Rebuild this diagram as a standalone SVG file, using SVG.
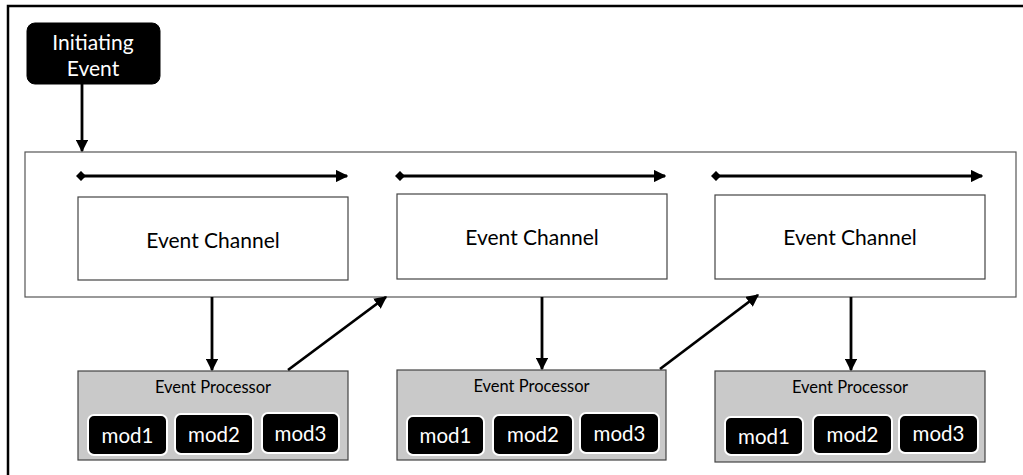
<svg xmlns="http://www.w3.org/2000/svg" width="1023" height="475" viewBox="0 0 1023 475">
<style>
.frame{fill:none;stroke:#000;stroke-width:2.5}
.container{fill:#fff;stroke:#555;stroke-width:1.2}
.chan{fill:#fff;stroke:#444;stroke-width:1.2}
.proc{fill:#c9c9c9;stroke:#444;stroke-width:1.2}
.mod{fill:#000;stroke:#fff;stroke-width:2}
.init{fill:#000;stroke:#000;stroke-width:1}
.conn{stroke:#000;stroke-width:2.8;fill:none}
text{font-family:Lato,"Open Sans","Liberation Sans",sans-serif;text-anchor:middle}
.wt{fill:#fff;font-size:21px}
.ct{fill:#000;font-size:21px}
.pt{fill:#000;font-size:16.5px}
.mt{fill:#fff;font-size:20.5px}
</style>
<defs>
<marker id="ah" viewBox="0 0 10 10" refX="9" refY="5" markerWidth="4.5" markerHeight="4.5" orient="auto" markerUnits="strokeWidth">
<path d="M0,0 L10,5 L0,10 z" fill="#000"/>
</marker>
<marker id="dm" viewBox="0 0 10 10" refX="5" refY="5" markerWidth="3.6" markerHeight="3.6" orient="auto" markerUnits="strokeWidth">
<path d="M0,5 L5,0 L10,5 L5,10 z" fill="#000"/>
</marker>
</defs>
<rect width="1023" height="475" fill="#fff"/>
<path class="frame" d="M8,475 L8,6 L1023,6"/>

<g id="container">
<rect class="container" x="25" y="152" width="991" height="145"/>
</g>

<g id="initiating-event">
<rect class="init" x="27" y="23" width="133" height="61" rx="8"/>
<text class="wt" x="93" y="50">Initiating</text>
<text class="wt" x="93" y="76">Event</text>
</g>

<g id="channel1">
<rect class="chan" x="78" y="197" width="270" height="83"/>
<text class="ct" x="213" y="248">Event Channel</text>
</g>
<g id="channel2">
<rect class="chan" x="397" y="194" width="270" height="85"/>
<text class="ct" x="532" y="245">Event Channel</text>
</g>
<g id="channel3">
<rect class="chan" x="715" y="195" width="270" height="84"/>
<text class="ct" x="850" y="245">Event Channel</text>
</g>

<g id="processor1">
<rect class="proc" x="78" y="371" width="270" height="89"/>
<text class="pt" x="213" y="393">Event Processor</text>
<rect class="mod" x="88" y="415" width="79" height="40" rx="6"/>
<text class="mt" x="127.5" y="443">mod1</text>
<rect class="mod" x="175" y="414" width="78" height="40" rx="6"/>
<text class="mt" x="214" y="442">mod2</text>
<rect class="mod" x="262" y="413" width="77" height="40" rx="6"/>
<text class="mt" x="300.5" y="441">mod3</text>
</g>
<g id="processor2">
<rect class="proc" x="397" y="370" width="269" height="90"/>
<text class="pt" x="531.5" y="392">Event Processor</text>
<rect class="mod" x="407" y="416" width="77" height="39" rx="6"/>
<text class="mt" x="445.5" y="443">mod1</text>
<rect class="mod" x="493" y="415" width="80" height="40" rx="6"/>
<text class="mt" x="533" y="442">mod2</text>
<rect class="mod" x="580" y="413" width="79" height="40" rx="6"/>
<text class="mt" x="619.5" y="441">mod3</text>
</g>
<g id="processor3">
<rect class="proc" x="715" y="371" width="270" height="91"/>
<text class="pt" x="850" y="393">Event Processor</text>
<rect class="mod" x="725" y="417" width="78" height="38" rx="6"/>
<text class="mt" x="764" y="444">mod1</text>
<rect class="mod" x="813" y="415" width="79" height="39" rx="6"/>
<text class="mt" x="852.5" y="442">mod2</text>
<rect class="mod" x="899" y="415" width="79" height="38" rx="6"/>
<text class="mt" x="938.5" y="441">mod3</text>
</g>

<g id="connectors">
<line class="conn" x1="82" y1="84" x2="82" y2="151" marker-end="url(#ah)"/>
<line class="conn" x1="81" y1="176" x2="347" y2="176" marker-start="url(#dm)" marker-end="url(#ah)"/>
<line class="conn" x1="400" y1="176" x2="665" y2="176" marker-start="url(#dm)" marker-end="url(#ah)"/>
<line class="conn" x1="716" y1="176" x2="982" y2="176" marker-start="url(#dm)" marker-end="url(#ah)"/>
<line class="conn" x1="212" y1="297" x2="212" y2="370" marker-end="url(#ah)"/>
<line class="conn" x1="542" y1="297" x2="542" y2="369" marker-end="url(#ah)"/>
<line class="conn" x1="851" y1="297" x2="851" y2="370" marker-end="url(#ah)"/>
<line class="conn" x1="288" y1="370" x2="386" y2="297" marker-end="url(#ah)"/>
<line class="conn" x1="660" y1="369" x2="758" y2="295" marker-end="url(#ah)"/>
</g>
</svg>
